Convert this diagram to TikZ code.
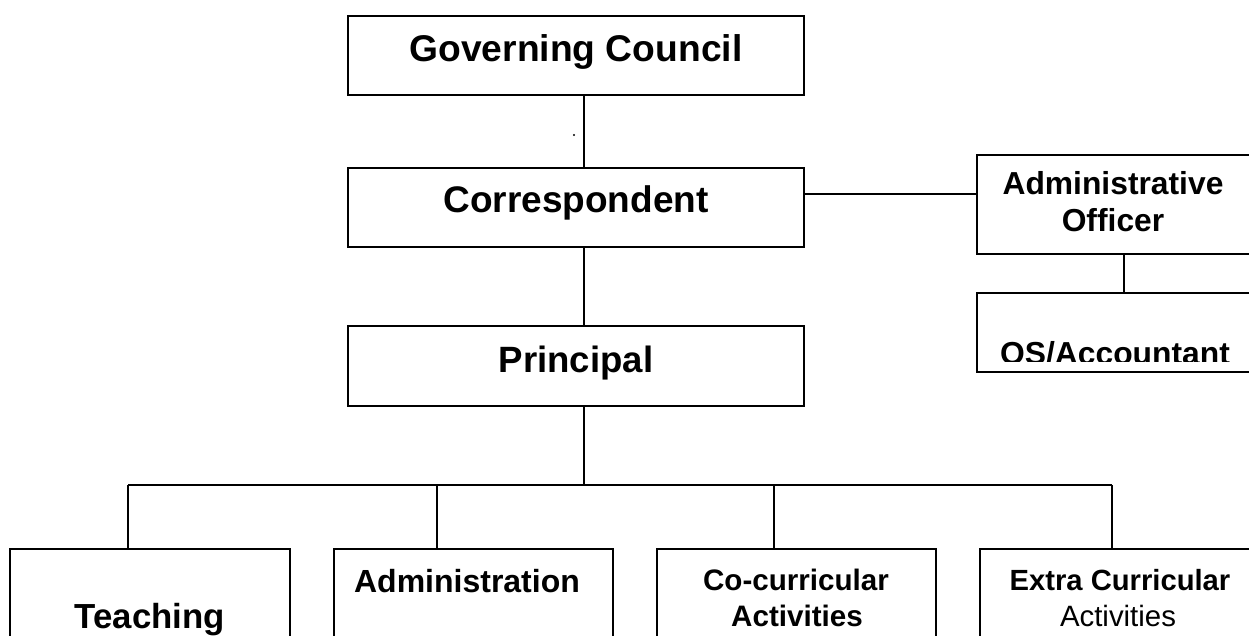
\documentclass[tikz,border=0pt]{standalone}
\usepackage{fontspec}
\setmainfont{Liberation Sans}
\usetikzlibrary{positioning}

\begin{document}
\begin{tikzpicture}[x=0.5pt,y=-0.5pt]
	\tikzset{box/.style={rectangle, draw=black, line width=1pt, anchor=north west, inner sep=0pt, outer sep=0pt}}
	\tikzset{txt/.style={anchor=base, inner sep=0pt, font=\bfseries}}
	\tikzset{connect/.style={line width=1pt}}
	\useasboundingbox (0,0) rectangle (1249,636);
	% boxes
	\node[box, minimum width=228pt, minimum height=39.5pt] (gc) at (348,16) {};
	\node[box, minimum width=228pt, minimum height=39.5pt] (corr) at (348,168) {};
	\node[box, minimum width=228pt, minimum height=40pt] (prin) at (348,326) {};
	\node[box, minimum width=145pt, minimum height=49.5pt] (ao) at (977,155) {};
	\node[box, minimum width=145pt, minimum height=39.5pt] (os) at (977,293) {};
	\node[box, minimum width=140pt, minimum height=52pt] (teach) at (10,549) {};
	\node[box, minimum width=139.5pt, minimum height=52pt] (admin) at (334,549) {};
	\node[box, minimum width=139.5pt, minimum height=52pt] (cocur) at (657,549) {};
	\node[box, minimum width=150pt, minimum height=52pt] (extra) at (980,549) {};
	% labels
	\node[txt, font=\fontsize{18.6}{22}\selectfont\bfseries] (gctext) at (576,62) {Governing Council};
	\node[txt, font=\fontsize{18.5}{22}\selectfont\bfseries] (corrtext) at (576,213) {Correspondent};
	\node[txt, font=\fontsize{18.3}{22}\selectfont\bfseries] (printext) at (576,373) {Principal};
	\node[txt, font=\fontsize{15.9}{19}\selectfont\bfseries] (aotexta) at (1113,195) {Administrative};
	\node[txt, font=\fontsize{15.9}{19}\selectfont\bfseries] (aotextb) at (1113,232) {Officer};
	\begin{scope}
		\clip (977,293) rectangle (1249,362);
		\node[txt, font=\fontsize{15.9}{19}\selectfont\bfseries] (ostext) at (1115,365) {OS/Accountant};
	\end{scope}
	\node[txt, font=\fontsize{17.4}{21}\selectfont\bfseries] (teachtext) at (150,628) {Teaching};
	\node[txt, font=\fontsize{16}{19}\selectfont\bfseries] (admintext) at (467,592) {Administration};
	\node[txt, font=\fontsize{14.8}{18}\selectfont\bfseries] (cocurtexta) at (796,590) {Co-curricular};
	\node[txt, font=\fontsize{14.8}{18}\selectfont\bfseries] (cocurtextb) at (797,626) {Activities};
	\node[txt, font=\fontsize{14.6}{18}\selectfont\bfseries] (extratexta) at (1120,590) {Extra Curricular};
	\node[txt, font=\fontsize{14.7}{18}\selectfont] (extratextb) at (1118,626) {Activities};
	\fill (574,135) circle (0.6pt);
	% connectors
	\coordinate (bar) at (584,485);
	\draw[connect] ([xshift=4pt]gc.south) -- ([xshift=4pt]corr.north);
	\draw[connect] ([yshift=6.5pt]corr.east) -- ([yshift=6.5pt]corr.east -| ao.west);
	\draw[connect] ([xshift=73.5pt]ao.south west) -- ([xshift=73.5pt]os.north west);
	\draw[connect] ([xshift=4pt]corr.south) -- ([xshift=4pt]prin.north);
	\draw[connect] ([xshift=4pt]prin.south) -- (bar);
	\draw[connect] (128,485) -- (1112,485);
	\foreach \b/\x in {teach/128, admin/437, cocur/774, extra/1112}
		\draw[connect] (\x,485) -- (\x,485 |- \b.north);
\end{tikzpicture}
\end{document}
